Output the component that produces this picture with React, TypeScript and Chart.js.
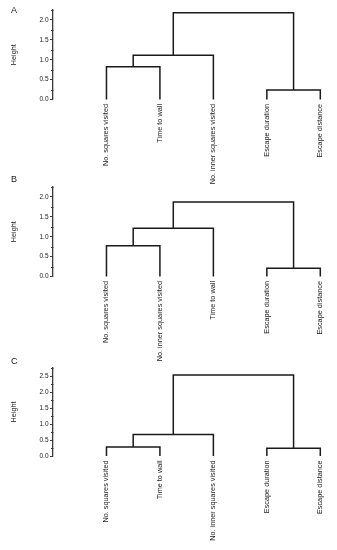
import React, { useEffect, useRef } from "react";
import { Chart, registerables } from "chart.js";

Chart.register(...registerables);

// ---- Data ----
const leavesA = ["No. squares visited", "Time to wall", "No. inner squares visited", "Escape duration", "Escape distance"];
const mergesA = [[-1, -2], [1, -3], [-4, -5], [2, 3]];
const heightsA = [0.825, 1.11, 0.24, 2.18];

const leavesB = ["No. squares visited", "No. inner squares visited", "Time to wall", "Escape duration", "Escape distance"];
const mergesB = [[-1, -2], [1, -3], [-4, -5], [2, 3]];
const heightsB = [0.77, 1.21, 0.21, 1.87];

const leavesC = ["No. squares visited", "Time to wall", "No. inner squares visited", "Escape duration", "Escape distance"];
const mergesC = [[-1, -2], [1, -3], [-4, -5], [2, 3]];
const heightsC = [0.28, 0.67, 0.24, 2.53];

const majorTicksAB = [0, 0.5, 1.0, 1.5, 2.0];
const minorTicksAB = [0.25, 0.75, 1.25, 1.75, 2.25];
const majorTicksC = [0, 0.5, 1.0, 1.5, 2.0, 2.5];
const minorTicksC = [0.25, 0.75, 1.25, 1.75, 2.25, 2.75];
const yMaxAB = 2.25;
const yMaxC = 2.75;

const FONT = "'Liberation Sans', Arial, sans-serif";
const INK = "#1a1a1a";
const AXIS = "#3a3a3a";

function linkSegments(merges: number[][], heights: number[]) {
  const pos: number[] = [];
  const segs: { x: number; y: number }[][] = [];
  merges.forEach(([a, b], i) => {
    const pa = a < 0 ? { x: -a - 1, y: 0 } : { x: pos[a - 1], y: heights[a - 1] };
    const pb = b < 0 ? { x: -b - 1, y: 0 } : { x: pos[b - 1], y: heights[b - 1] };
    pos[i] = (pa.x + pb.x) / 2;
    const h = heights[i];
    segs.push([
      { x: pa.x, y: pa.y },
      { x: pa.x, y: h },
      { x: pb.x, y: h },
      { x: pb.x, y: pb.y },
    ]);
  });
  return segs;
}

type PanelProps = {
  leaves: string[];
  merges: number[][];
  heights: number[];
  major: number[];
  minor: number[];
  yMax: number;
  top: number;
  canvasHeight: number;
  padTop: number;
  chartBottom: number;
};

function Panel(p: PanelProps) {
  const ref = useRef<HTMLCanvasElement | null>(null);
  useEffect(() => {
    if (!ref.current) return;
    const segs = linkSegments(p.merges, p.heights);
    const minorPlugin = {
      id: "minorTicks",
      afterDraw(chart: any) {
        const ys = chart.scales.y;
        const ctx = chart.ctx;
        const left = chart.chartArea.left;
        ctx.save();
        ctx.strokeStyle = AXIS;
        ctx.lineWidth = 1;
        p.minor.forEach((v) => {
          const py = Math.round(ys.getPixelForValue(v)) + 0.5;
          ctx.beginPath();
          ctx.moveTo(left - 2, py);
          ctx.lineTo(left + 0.5, py);
          ctx.stroke();
        });
        ctx.restore();
      },
    };
    const chart = new Chart(ref.current, {
      type: "line",
      data: {
        datasets: segs.map((s) => ({
          data: s,
          borderColor: INK,
          borderWidth: 1.5,
          pointRadius: 0,
          tension: 0,
          fill: false,
          clip: false as any,
        })),
      },
      options: {
        animation: false,
        responsive: false,
        events: [],
        layout: { padding: { top: p.padTop, right: 6, left: 0, bottom: 0 } },
        plugins: { legend: { display: false }, tooltip: { enabled: false } },
        scales: {
          x: {
            type: "linear",
            min: -1,
            max: 4.2,
            grid: { display: false, drawTicks: false },
            border: { display: false },
            afterBuildTicks: (scale: any) => {
              scale.ticks = p.leaves.map((_, i) => ({ value: i }));
            },
            afterFit: (scale: any) => {
              scale.height = p.canvasHeight - p.chartBottom;
            },
            ticks: {
              autoSkip: false,
              minRotation: 90,
              maxRotation: 90,
              padding: 4.5,
              color: INK,
              font: { family: FONT, size: 7.3 },
              callback: (v: any) => p.leaves[Math.round(Number(v))] ?? "",
            },
          },
          y: {
            type: "linear",
            min: 0,
            max: p.yMax,
            afterBuildTicks: (scale: any) => {
              scale.ticks = p.major.map((v) => ({ value: v }));
            },
            afterFit: (scale: any) => {
              scale.width = 53;
            },
            grid: {
              drawOnChartArea: false,
              drawTicks: true,
              tickLength: 3,
              tickColor: AXIS,
              tickWidth: 1,
            },
            border: { display: true, color: AXIS, width: 1.3 },
            ticks: {
              padding: 1.5,
              color: INK,
              font: { family: FONT, size: 6.5 },
              callback: (v: any) => Number(v).toFixed(1),
            },
            title: {
              display: true,
              text: "Height",
              color: INK,
              font: { family: FONT, size: 7.2 },
              padding: { top: 10, bottom: 0 },
            },
          },
        },
      },
      plugins: [minorPlugin],
    } as any);
    return () => chart.destroy();
  }, []);
  return (
    <canvas
      ref={ref}
      width={337}
      height={p.canvasHeight}
      style={{ position: "absolute", left: 0, top: p.top, width: 337, height: p.canvasHeight }}
    />
  );
}

const letterStyle = (top: number): React.CSSProperties => ({
  position: "absolute",
  left: 11,
  top,
  fontFamily: FONT,
  fontSize: 9,
  lineHeight: "9px",
  color: INK,
});

export default function App() {
  return (
    <div style={{ position: "absolute", left: 0, top: 0, width: 337, height: 550, background: "#fff", overflow: "hidden" }}>
      <Panel leaves={leavesA} merges={mergesA} heights={heightsA} major={majorTicksAB} minor={minorTicksAB}
        yMax={yMaxAB} top={0} canvasHeight={190} padTop={10} chartBottom={99.5} />
      <Panel leaves={leavesB} merges={mergesB} heights={heightsB} major={majorTicksAB} minor={minorTicksAB}
        yMax={yMaxAB} top={180} canvasHeight={190} padTop={7} chartBottom={96.5} />
      <Panel leaves={leavesC} merges={mergesC} heights={heightsC} major={majorTicksC} minor={minorTicksC}
        yMax={yMaxC} top={360} canvasHeight={190} padTop={8} chartBottom={96} />
      <div style={letterStyle(5.5)}>A</div>
      <div style={letterStyle(174.5)}>B</div>
      <div style={letterStyle(356.5)}>C</div>
    </div>
  );
}
